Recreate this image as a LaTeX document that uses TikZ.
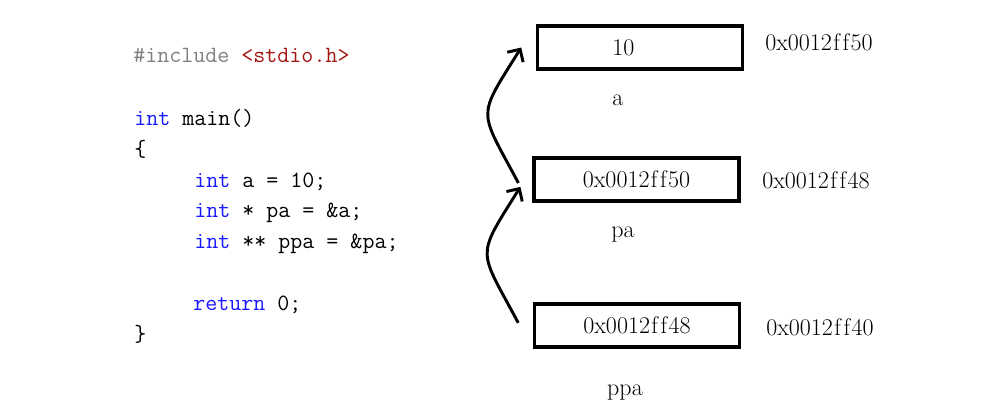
\documentclass[tikz,border=0pt]{standalone}
\usepackage{tikz}
\usetikzlibrary{arrows.meta}
\definecolor{kwblue}{RGB}{25,25,255}
\definecolor{ppgray}{RGB}{128,128,128}
\definecolor{strred}{RGB}{163,21,21}
\tikzset{
  code/.style={anchor=base west, inner sep=0pt, font=\fontsize{17.5}{20}\selectfont\ttfamily},
  cell/.style={draw, line width=2.4pt, minimum width=153.75pt, minimum height=32.25pt, inner sep=0pt, font=\fontsize{18}{20}\selectfont},
  txt/.style={inner sep=0pt, font=\fontsize{18}{20}\selectfont},
  ptr/.style={line width=2.2pt, -{Straight Barb[length=7pt,width=14pt]}}
}
\newcommand{\kw}[1]{\textcolor{kwblue}{#1}}
\newcommand{\hex}[1]{0x0012\kern1pt f\kern2pt f\kern1pt #1}
\begin{document}
\begin{tikzpicture}[x=0.75pt, y=-0.75pt]
  \useasboundingbox (0,0) rectangle (983,401);
  % source code
  \node[code] (inc)  at (133,62)  {\textcolor{ppgray}{\#include} \textcolor{strred}{<stdio.h>}};
  \node[code] (main) at (134,125) {\kw{int} main()};
  \node[code] (open) at (134,156) {\{};
  \node[code] (la)   at (194,187) {\kw{int} a = 10;};
  \node[code] (lpa)  at (194,217) {\kw{int} * pa = \&a;};
  \node[code] (lppa) at (194,248) {\kw{int} ** ppa = \&pa;};
  \node[code] (ret)  at (193,310) {\kw{return} 0;};
  \node[code] (shut) at (134,341) {\}};
  % memory cells
  \node[cell] (a)   at (640,47.5)  {10\hspace*{25pt}};
  \node[cell] (pa)  at (636.5,179.5) {\hex{50}};
  \node[cell] (ppa) at (637,325.5) {\hex{48}};
  % addresses
  \node[txt, anchor=base west] (adra)   at (765,50)  {\hex{50}};
  \node[txt, anchor=base west] (adrpa)  at (762,188) {\hex{48}};
  \node[txt, anchor=base west] (adrppa) at (766,335) {\hex{40}};
  % variable names
  \node[txt, anchor=base] (na)   at (618,105) {a};
  \node[txt, anchor=base] (npa)  at (623,237) {pa};
  \node[txt, anchor=base] (nppa) at (625,395) {ppa};
  % pointers
  \draw[ptr] ([xshift=-10.5pt,yshift=-2.6pt]pa.west) to[out=118, in=238, looseness=1.6] ([xshift=-11pt]a.west);
  \draw[ptr] ([xshift=-11pt,yshift=2pt]ppa.west) to[out=118, in=238, looseness=1.6] ([xshift=-9pt,yshift=-5.5pt]pa.west);
\end{tikzpicture}
\end{document}
